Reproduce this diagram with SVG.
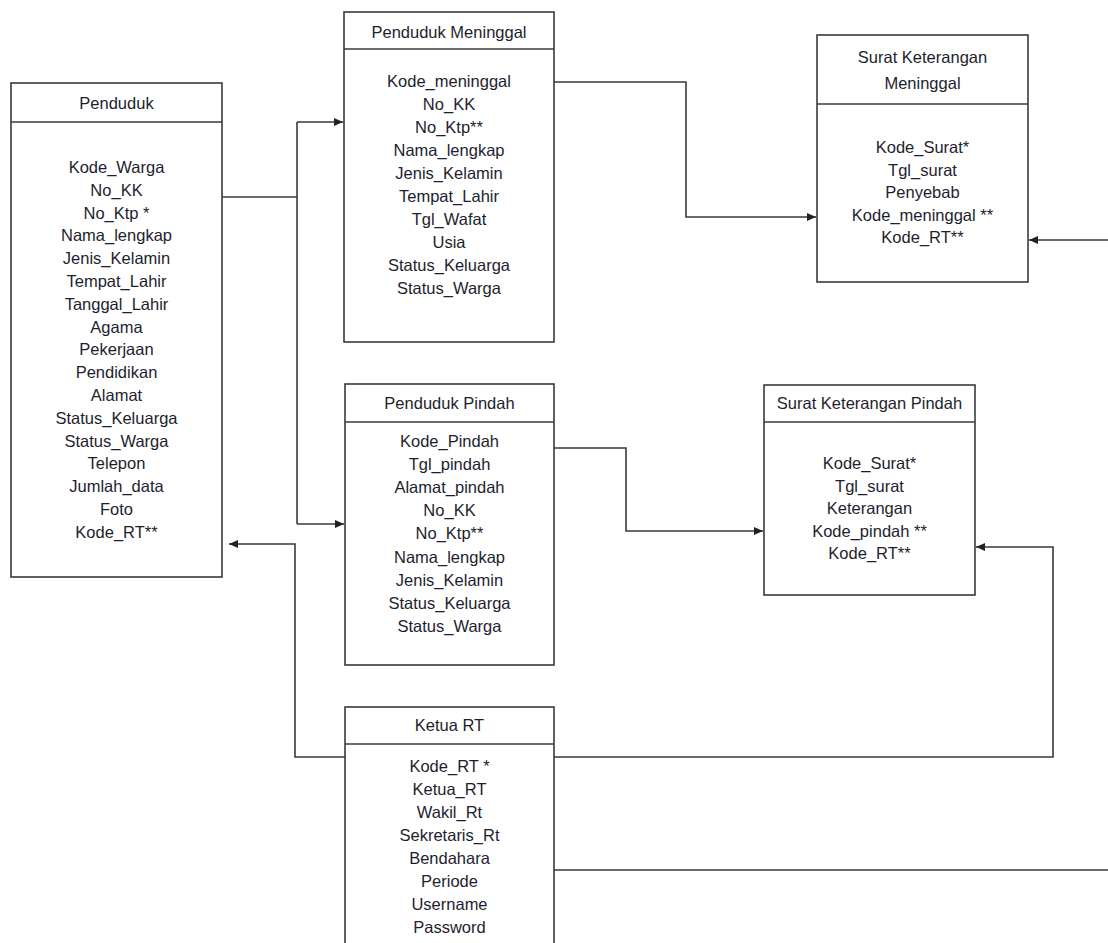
<svg xmlns="http://www.w3.org/2000/svg" width="1108" height="943" viewBox="0 0 1108 943">
<defs>
<style>
.box{fill:#fff;stroke:#3a3a3a;stroke-width:1.6}
.sep{stroke:#3a3a3a;stroke-width:1.6}
.t{font-family:"Liberation Sans",Arial,sans-serif;font-size:16.5px;fill:#1e1e2e;text-anchor:middle}
.c{fill:none;stroke:#3a3a3a;stroke-width:1.6}
</style>
<marker id="ah" markerWidth="10" markerHeight="10" refX="9" refY="5" orient="auto" markerUnits="userSpaceOnUse">
<path d="M0,1 L9,5 L0,9 Z" fill="#222"/>
</marker>
</defs>
<rect width="1108" height="943" fill="#fff"/>
<g id="connectors">
<path class="c" d="M222,197 H297"/>
<path class="c" d="M297,122 V524"/>
<path class="c" d="M297,122 H343" marker-end="url(#ah)"/>
<path class="c" d="M297,524 H344" marker-end="url(#ah)"/>
<path class="c" d="M554,82 H686 V217 H816" marker-end="url(#ah)"/>
<path class="c" d="M1108,240 H1029" marker-end="url(#ah)"/>
<path class="c" d="M554,448 H626 V531 H763" marker-end="url(#ah)"/>
<path class="c" d="M554,757 H1053 V547 H976" marker-end="url(#ah)"/>
<path class="c" d="M345,757 H295 V544 H229" marker-end="url(#ah)"/>
<path class="c" d="M554,870 H1108"/>
</g>
<g id="penduduk">
<rect class="box" x="11" y="83" width="211" height="494"/>
<line class="sep" x1="11" y1="122" x2="222" y2="122"/>
<text class="t" x="116.5" y="109">Penduduk</text>
<text class="t" y="173"><tspan x="116.5">Kode_Warga</tspan><tspan x="116.5" dy="22.8">No_KK</tspan><tspan x="116.5" dy="22.8">No_Ktp *</tspan><tspan x="116.5" dy="22.8">Nama_lengkap</tspan><tspan x="116.5" dy="22.8">Jenis_Kelamin</tspan><tspan x="116.5" dy="22.8">Tempat_Lahir</tspan><tspan x="116.5" dy="22.8">Tanggal_Lahir</tspan><tspan x="116.5" dy="22.8">Agama</tspan><tspan x="116.5" dy="22.8">Pekerjaan</tspan><tspan x="116.5" dy="22.8">Pendidikan</tspan><tspan x="116.5" dy="22.8">Alamat</tspan><tspan x="116.5" dy="22.8">Status_Keluarga</tspan><tspan x="116.5" dy="22.8">Status_Warga</tspan><tspan x="116.5" dy="22.8">Telepon</tspan><tspan x="116.5" dy="22.8">Jumlah_data</tspan><tspan x="116.5" dy="22.8">Foto</tspan><tspan x="116.5" dy="22.8">Kode_RT**</tspan></text>
</g>
<g id="penduduk-meninggal">
<rect class="box" x="344" y="12" width="210" height="330"/>
<line class="sep" x1="344" y1="49" x2="554" y2="49"/>
<text class="t" x="449" y="38">Penduduk Meninggal</text>
<text class="t" y="87"><tspan x="449">Kode_meninggal</tspan><tspan x="449" dy="23">No_KK</tspan><tspan x="449" dy="23">No_Ktp**</tspan><tspan x="449" dy="23">Nama_lengkap</tspan><tspan x="449" dy="23">Jenis_Kelamin</tspan><tspan x="449" dy="23">Tempat_Lahir</tspan><tspan x="449" dy="23">Tgl_Wafat</tspan><tspan x="449" dy="23">Usia</tspan><tspan x="449" dy="23">Status_Keluarga</tspan><tspan x="449" dy="23">Status_Warga</tspan></text>
</g>
<g id="surat-keterangan-meninggal">
<rect class="box" x="817" y="35" width="211" height="247"/>
<line class="sep" x1="817" y1="104" x2="1028" y2="104"/>
<text class="t" y="63"><tspan x="922.5">Surat Keterangan</tspan><tspan x="922.5" dy="26">Meninggal</tspan></text>
<text class="t" y="153"><tspan x="922.5">Kode_Surat*</tspan><tspan x="922.5" dy="22.5">Tgl_surat</tspan><tspan x="922.5" dy="22.5">Penyebab</tspan><tspan x="922.5" dy="22.5">Kode_meninggal **</tspan><tspan x="922.5" dy="22.5">Kode_RT**</tspan></text>
</g>
<g id="penduduk-pindah">
<rect class="box" x="345" y="384" width="209" height="281"/>
<line class="sep" x1="345" y1="422" x2="554" y2="422"/>
<text class="t" x="449.5" y="409">Penduduk Pindah</text>
<text class="t" y="447"><tspan x="449.5">Kode_Pindah</tspan><tspan x="449.5" dy="23.1">Tgl_pindah</tspan><tspan x="449.5" dy="23.1">Alamat_pindah</tspan><tspan x="449.5" dy="23.1">No_KK</tspan><tspan x="449.5" dy="23.1">No_Ktp**</tspan><tspan x="449.5" dy="23.1">Nama_lengkap</tspan><tspan x="449.5" dy="23.1">Jenis_Kelamin</tspan><tspan x="449.5" dy="23.1">Status_Keluarga</tspan><tspan x="449.5" dy="23.1">Status_Warga</tspan></text>
</g>
<g id="surat-keterangan-pindah">
<rect class="box" x="764" y="385" width="211" height="210"/>
<line class="sep" x1="764" y1="422" x2="975" y2="422"/>
<text class="t" x="869.5" y="409">Surat Keterangan Pindah</text>
<text class="t" y="469"><tspan x="869.5">Kode_Surat*</tspan><tspan x="869.5" dy="22.5">Tgl_surat</tspan><tspan x="869.5" dy="22.5">Keterangan</tspan><tspan x="869.5" dy="22.5">Kode_pindah **</tspan><tspan x="869.5" dy="22.5">Kode_RT**</tspan></text>
</g>
<g id="ketua-rt">
<rect class="box" x="345" y="707" width="209" height="260"/>
<line class="sep" x1="345" y1="744" x2="554" y2="744"/>
<text class="t" x="449.5" y="731">Ketua RT</text>
<text class="t" y="772"><tspan x="449.5">Kode_RT *</tspan><tspan x="449.5" dy="23">Ketua_RT</tspan><tspan x="449.5" dy="23">Wakil_Rt</tspan><tspan x="449.5" dy="23">Sekretaris_Rt</tspan><tspan x="449.5" dy="23">Bendahara</tspan><tspan x="449.5" dy="23">Periode</tspan><tspan x="449.5" dy="23">Username</tspan><tspan x="449.5" dy="23">Password</tspan></text>
</g>
</svg>
